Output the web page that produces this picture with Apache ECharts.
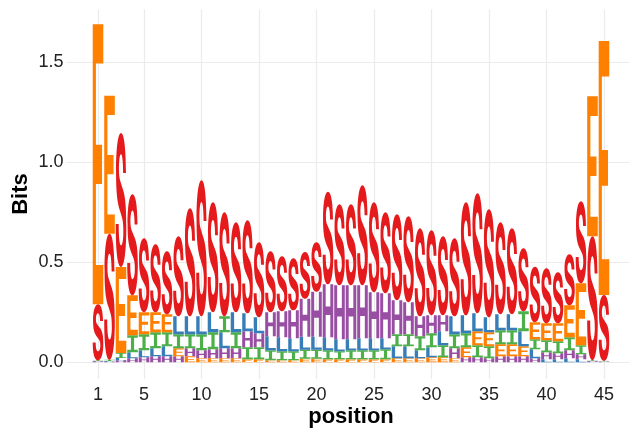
<!DOCTYPE html>
<html>
<head>
<meta charset="utf-8">
<script src="https://cdn.jsdelivr.net/npm/echarts@6/dist/echarts.min.js"></script>
<style>
html,body{margin:0;padding:0;background:#fff;}
#chart{width:629px;height:430px;}
</style>
</head>
<body>
<div id="chart"></div>
<script>
// ---- data (bits per letter at each position) ----
const positions = [1,2,3,4,5,6,7,8,9,10,11,12,13,14,15,16,17,18,19,20,21,22,23,24,25,26,27,28,29,30,31,32,33,34,35,36,37,38,39,40,41,42,43,44,45];
const letters = ['S','E','L','H','I'];
const bitsS = [0.28,0.63,0.67,0.505,0.37,0.34,0.315,0.40,0.54,0.68,0.55,0.52,0.45,0.465,0.375,0.305,0.275,0.26,0.233,0.247,0.463,0.405,0.405,0.50,0.45,0.405,0.43,0.43,0.44,0.425,0.395,0.39,0.565,0.60,0.54,0.46,0.43,0.315,0.278,0.275,0.255,0.255,0.41,0.62,0.33];
const bitsE = [1.40,0.69,0.43,0.20,0.11,0.10,0.09,0.04,0.03,0.02,0.02,0.02,0.02,0.015,0.015,0.01,0.01,0.01,0.018,0.018,0.015,0.015,0.015,0.015,0.015,0.015,0.02,0.02,0.02,0.025,0.025,0.02,0.05,0.07,0.07,0.06,0.06,0.05,0.085,0.085,0.09,0.16,0.31,0.70,1.27];
const bitsL = [0.003,0.004,0.012,0.03,0.035,0.04,0.05,0.09,0.09,0.09,0.10,0.08,0.10,0.09,0.08,0.07,0.07,0.065,0.065,0.065,0.065,0.06,0.055,0.06,0.06,0.055,0.06,0.06,0.04,0.05,0.07,0.09,0.09,0.09,0.075,0.08,0.08,0.075,0.045,0.015,0.015,0.02,0.015,0.003,0.002];
const bitsH = [0.003,0.003,0.01,0.02,0.025,0.03,0.03,0.03,0.04,0.04,0.045,0.05,0.05,0.08,0.07,0.12,0.13,0.14,0.19,0.225,0.265,0.27,0.27,0.265,0.23,0.225,0.17,0.16,0.10,0.09,0.08,0.05,0.025,0.025,0.02,0.03,0.03,0.03,0.02,0.035,0.03,0.04,0.025,0.003,0.002];
const bitsI = [0.004,0.006,0.025,0.085,0.08,0.08,0.07,0.07,0.07,0.08,0.085,0.08,0.08,0.06,0.06,0.05,0.045,0.045,0.045,0.045,0.045,0.04,0.045,0.045,0.045,0.05,0.06,0.06,0.07,0.07,0.06,0.07,0.07,0.06,0.06,0.07,0.07,0.10,0.05,0.06,0.06,0.065,0.045,0.004,0.003];
const xTicks = [1,5,10,15,20,25,30,35,40,45];
const yTicks = [0,0.5,1,1.5];
const xTitle = 'position';
const yTitle = 'Bits';

// ---- glyph outlines (unit box, stretched to each letter's box) ----
const GLYPH = {
  S: 'M95 30 C94 10 76 0 50 0 C22 0 5 12 5 29 C5 46 18 52 40 58 L58 63 C68 66 71 69 71 74 C71 80 62 84 50 84 C37 84 29 78 29 68 L2 68 C2 90 20 100 50 100 C80 100 98 88 98 70 C98 52 84 46 62 41 L44 36 C35 34 31 31 31 27 C31 21 38 16 49 16 C61 16 68 21 69 30 Z',
  E: 'M0 0 H100 V14 H30 V43 H88 V57 H30 V86 H100 V100 H0 Z',
  L: 'M0 0 H32 V84 H100 V100 H0 Z',
  H: 'M0 0 H28 V42 H72 V0 H100 V100 H72 V58 H28 V100 H0 Z',
  I: 'M0 0 H100 V15 H65 V85 H100 V100 H0 V85 H35 V15 H0 Z'
};
const COLORS = {S:'#E41A1C', E:'#FF7F00', L:'#377EB8', H:'#984EA3', I:'#4DAF4A'};

const table = {S: bitsS, E: bitsE, L: bitsL, H: bitsH, I: bitsI};
const items = [];
positions.forEach((p, i) => {
  const col = letters.map((l, k) => ({k, v: table[l][i]})).sort((a, b) => a.v - b.v);
  let base = 0;
  col.forEach(c => {
    items.push([p, base, base + c.v, c.k]);
    base += c.v;
  });
});

const HALF = 0.46;
const font = '"Liberation Sans", Arial, Helvetica, sans-serif';
const chart = echarts.init(document.getElementById('chart'), null, {renderer: 'canvas'});
chart.setOption({
  animation: false,
  backgroundColor: '#ffffff',
  grid: {left: 66.4, right: -6.6, top: 9.5, bottom: 50.9, containLabel: false, outerBoundsMode: 'none'},
  graphic: [
    {type: 'text', x: 351, y: 416.5, style: {text: xTitle, font: 'bold 22px ' + font, fill: '#000', align: 'center', verticalAlign: 'middle'}},
    {type: 'text', x: 21, y: 194, rotation: Math.PI / 2, style: {text: yTitle, font: 'bold 22px ' + font, fill: '#000', align: 'center', verticalAlign: 'middle'}}
  ],
  xAxis: {
    type: 'value', min: -1.75, max: 47.75,
    axisLine: {show: false}, axisTick: {show: false, customValues: xTicks},
    axisLabel: {customValues: xTicks, fontFamily: font, fontSize: 18, color: '#222', margin: 7},
    splitLine: {show: true, lineStyle: {color: '#ebebeb', width: 1.2}}
  },
  yAxis: {
    type: 'value', min: -0.084, max: 1.764,
    axisLine: {show: false}, axisTick: {show: false, customValues: yTicks},
    axisLabel: {customValues: yTicks, fontFamily: font, fontSize: 18, color: '#222', margin: 3,
      formatter: v => Number(v).toFixed(1)},
    splitLine: {show: true, lineStyle: {color: '#ebebeb', width: 1.2}}
  },
  series: [{
    type: 'custom',
    clip: false,
    data: items,
    encode: {x: 0, y: [1, 2]},
    renderItem: function (params, api) {
      const p = api.value(0), y0 = api.value(1), y1 = api.value(2), k = api.value(3);
      if (y1 - y0 < 0.0015) return null;
      const tl = api.coord([p - HALF, y1]);
      const br = api.coord([p + HALF, y0]);
      const l = letters[k];
      return {
        type: 'path',
        shape: {pathData: GLYPH[l], x: tl[0], y: tl[1], width: br[0] - tl[0], height: br[1] - tl[1], layout: 'cover'},
        style: {fill: COLORS[l]}
      };
    }
  }]
});
</script>
</body>
</html>
